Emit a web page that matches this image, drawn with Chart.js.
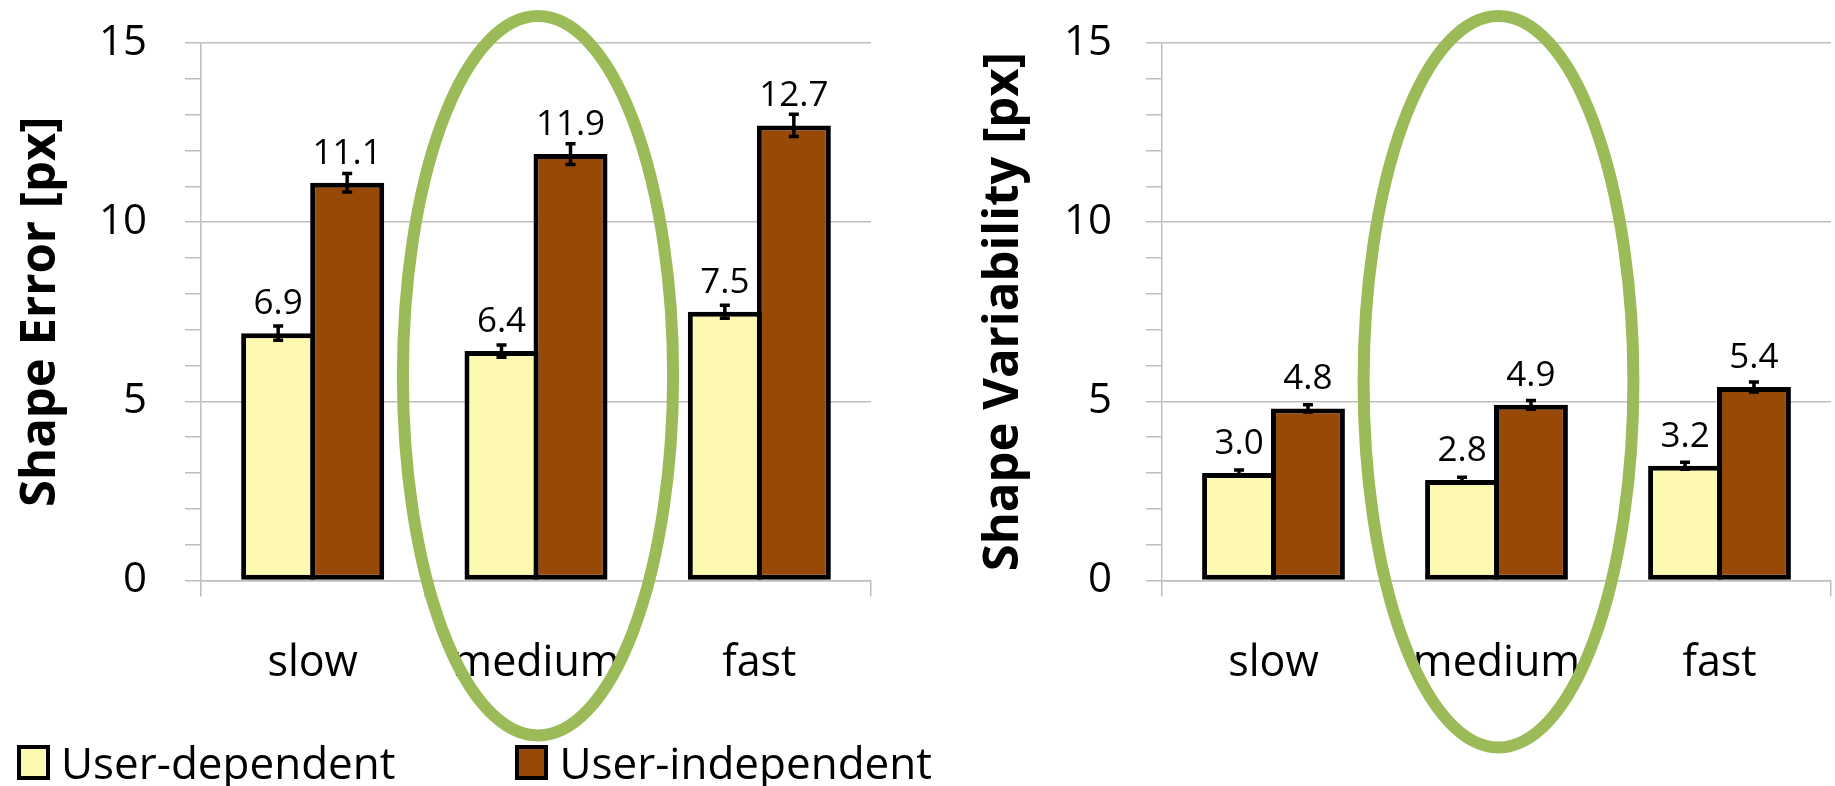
<!DOCTYPE html>
<html>
<head>
<meta charset="utf-8">
<script src="https://cdn.jsdelivr.net/npm/chart.js@4.4.1/dist/chart.umd.min.js"></script>
<style>
  body { margin: 0; background: #fff; width: 1835px; height: 786px; position: relative; overflow: hidden; }
  canvas { position: absolute; top: 0; }
  #errorChart { left: 0; }
  #varChart { left: 961px; }
  #legend { position: absolute; left: 17px; top: 740px; display: flex; font-family: 'Open Sans'; font-size: 44px; line-height: 1; color: #000; white-space: nowrap; }
  #legend .item { display: flex; align-items: center; margin-right: 120px; }
  #legend .box { width: 33px; height: 35px; box-sizing: border-box; margin-right: 11px; }
</style>
</head>
<body>
<canvas id="errorChart" width="880" height="786"></canvas>
<canvas id="varChart" width="874" height="786"></canvas>
<div id="legend"></div>
<script>
const categories = ['slow', 'medium', 'fast'];
const seriesNames = ['User-dependent', 'User-independent'];

// left panel: shape error
const errorDependent = [6.9, 6.4, 7.5];
const errorIndependent = [11.1, 11.9, 12.7];
const errorDependentErr = [0.2, 0.17, 0.18];
const errorIndependentErr = [0.26, 0.29, 0.31];

// right panel: shape variability
const varDependent = [3.0, 2.8, 3.2];
const varIndependent = [4.8, 4.9, 5.4];
const varDependentErr = [0.08, 0.08, 0.1];
const varIndependentErr = [0.1, 0.12, 0.14];

const yMax = 15;
const yLabelStep = 5;

const yellow = '#FDF9B1';
const brown = '#984807';
const gridGray = '#BEBEBE';

Chart.defaults.font.family = "'Open Sans'";
Chart.defaults.color = '#000';

// error bars + value labels above each bar
const barExtras = {
  id: 'barExtras',
  afterDatasetsDraw(chart) {
    const ctx = chart.ctx;
    const y = chart.scales.y;
    ctx.save();
    chart.data.datasets.forEach((ds, i) => {
      chart.getDatasetMeta(i).data.forEach((bar, j) => {
        const v = ds.data[j];
        const e = ds.errors[j];
        const top = y.getPixelForValue(v + e);
        const bot = y.getPixelForValue(v - e);
        ctx.strokeStyle = '#000';
        ctx.lineWidth = 3.5;
        ctx.beginPath();
        ctx.moveTo(bar.x, top); ctx.lineTo(bar.x, bot);
        ctx.moveTo(bar.x - 5, top); ctx.lineTo(bar.x + 5, top);
        ctx.moveTo(bar.x - 5, bot); ctx.lineTo(bar.x + 5, bot);
        ctx.stroke();
        ctx.fillStyle = '#000';
        ctx.font = "35px 'Open Sans'";
        ctx.textAlign = 'center';
        ctx.textBaseline = 'alphabetic';
        ctx.fillText(v.toFixed(1), bar.x, bar.y - 19);
      });
    });
    ctx.restore();
  }
};

// green ellipse round one category
const highlight = {
  id: 'highlight',
  afterDraw(chart, args, opts) {
    const ctx = chart.ctx;
    const area = chart.chartArea;
    const cx = chart.scales.x.getPixelForValue(opts.index) + 2;
    const rx = (area.right - area.left) / chart.data.labels.length * 0.605;
    const top = area.top - 27;
    const bottom = area.bottom + opts.below;
    ctx.save();
    ctx.strokeStyle = '#9BBB59';
    ctx.lineWidth = 12;
    ctx.beginPath();
    ctx.ellipse(cx, (top + bottom) / 2, rx, (bottom - top) / 2, 0, 0, 2 * Math.PI);
    ctx.stroke();
    ctx.restore();
  }
};

function makeDataset(label, data, errors, color) {
  return {
    label: label,
    data: data,
    errors: errors,
    backgroundColor: color,
    borderColor: '#000',
    borderWidth: 5,
    borderSkipped: false,
    categoryPercentage: 0.618,
    barPercentage: 1.0725
  };
}

function makeOptions(title, titleTop, tickPad, padRight, below) {
  return {
    responsive: false,
    animation: false,
    layout: { padding: { left: 0, top: 43, right: padRight, bottom: 54 } },
    plugins: {
      legend: { display: false },
      tooltip: { enabled: false },
      highlight: { index: 1, below: below }
    },
    scales: {
      x: {
        grid: { display: true, drawOnChartArea: false, drawTicks: true, tickLength: 16, color: gridGray, lineWidth: 1.5 },
        border: { display: true, color: gridGray, width: 1.5 },
        ticks: { font: { size: 43 }, padding: 42, color: '#000', maxRotation: 0, minRotation: 0 }
      },
      y: {
        min: 0,
        max: yMax,
        afterFit: s => { s.width = 201; s.paddingTop = 0; s.paddingBottom = 0; },
        grid: {
          color: c => (c.tick.value % yLabelStep === 0 ? gridGray : 'rgba(0,0,0,0)'),
          tickColor: gridGray,
          lineWidth: 1.5,
          tickLength: 16
        },
        border: { display: true, color: gridGray, width: 1.5 },
        ticks: {
          stepSize: 1,
          autoSkip: false,
          padding: tickPad,
          font: { size: 42 },
          color: '#000',
          callback: v => (v % yLabelStep === 0 ? v : '')
        },
        title: {
          display: true,
          text: title,
          color: '#000',
          font: { size: 49, weight: 'bold' },
          padding: { top: titleTop, bottom: 0 }
        }
      }
    }
  };
}

var errorChart = new Chart(document.getElementById('errorChart').getContext('2d'), {
  type: 'bar',
  data: {
    labels: categories,
    datasets: [
      makeDataset(seriesNames[0], errorDependent, errorDependentErr, yellow),
      makeDataset(seriesNames[1], errorIndependent, errorIndependentErr, brown)
    ]
  },
  options: makeOptions('Shape Error [px]', 12, 38, 9, 155),
  plugins: [barExtras, highlight]
});

var varChart = new Chart(document.getElementById('varChart').getContext('2d'), {
  type: 'bar',
  data: {
    labels: categories,
    datasets: [
      makeDataset(seriesNames[0], varDependent, varDependentErr, yellow),
      makeDataset(seriesNames[1], varIndependent, varIndependentErr, brown)
    ]
  },
  options: makeOptions('Shape Variability [px]', 14, 34, 4, 167),
  plugins: [barExtras, highlight]
});

// shared legend below the left panel, built from the chart's own legend items
var legendEl = document.getElementById('legend');
errorChart.options.plugins.legend.labels.generateLabels(errorChart).forEach(item => {
  var div = document.createElement('div');
  div.className = 'item';
  var box = document.createElement('span');
  box.className = 'box';
  box.style.background = item.fillStyle;
  box.style.border = '4px solid ' + item.strokeStyle;
  var text = document.createElement('span');
  text.textContent = item.text;
  div.appendChild(box);
  div.appendChild(text);
  legendEl.appendChild(div);
});
</script>
</body>
</html>
